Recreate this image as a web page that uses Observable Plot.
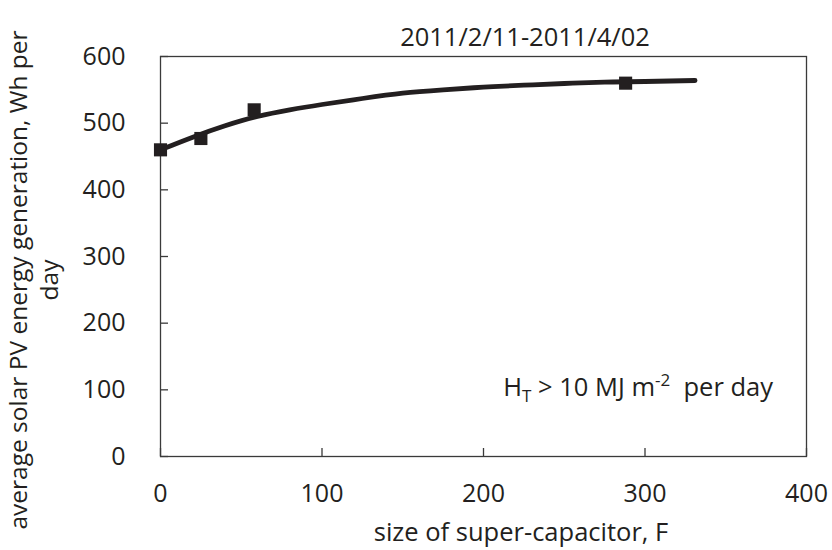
<!DOCTYPE html>
<html>
<head>
<meta charset="utf-8">
<script src="https://cdn.jsdelivr.net/npm/d3@7"></script>
<script src="https://cdn.jsdelivr.net/npm/@observablehq/plot@0.6"></script>
<style>
  html, body { margin: 0; padding: 0; background: #fff; }
  #chart { width: 832px; height: 550px; }
</style>
</head>
<body>
<div id="chart"></div>
<script>
// Measured points
const capacitance = [0, 25, 58, 288];
const energy = [460, 477, 520, 560];

// Fitted trend curve
const fitCapacitance = [0, 20, 40, 60, 80, 100, 125, 150, 175, 200, 225, 250, 275, 300, 331];
const fitEnergy = [460, 479, 496, 510, 520, 528, 537, 545, 550, 554, 557, 559.5, 561.5, 562.5, 564];

// Ticks
const xTicks = [0, 100, 200, 300, 400];
const yTicks = [0, 100, 200, 300, 400, 500, 600];

// Texts
const titleText = "2011/2/11-2011/4/02";
const xLabel = "size of super-capacitor, F";
const yLabelLines = ["average solar PV energy generation, Wh per", "day"];

const points = capacitance.map((c, i) => ({c, e: energy[i]}));
const fit = fitCapacitance.map((c, i) => ({c, e: fitEnergy[i]}));

const ink = "#231f20";

const chart = Plot.plot({
  width: 832,
  height: 550,
  marginLeft: 160,
  marginRight: 26,
  marginTop: 56,
  marginBottom: 94,
  style: {fontFamily: "'Open Sans', sans-serif", fontSize: "25px", color: ink, background: "#fff", overflow: "visible"},
  x: {domain: [0, 400], label: null},
  y: {domain: [0, 600], label: null},
  marks: [
    Plot.frame({stroke: "#3a3a3a", strokeWidth: 1.3}),
    Plot.axisX({ticks: xTicks, tickSize: -8, tickPadding: 36, label: null, stroke: "#3a3a3a", strokeWidth: 1.3, fontSize: 25}),
    Plot.axisY({ticks: yTicks, tickSize: -8, tickPadding: 43, label: null, stroke: "#3a3a3a", strokeWidth: 1.3, fontSize: 25}),
    Plot.line(fit, {x: "c", y: "e", curve: "natural", stroke: ink, strokeWidth: 4.8}),
    Plot.dot(points, {x: "c", y: "e", symbol: "square", r: 7.4, fill: ink, stroke: "none"})
  ]
});

document.getElementById("chart").appendChild(chart);

const svg = d3.select(chart);
const font = "'Open Sans', sans-serif";
const fs = 25.5;

// Title
svg.append("text")
  .attr("x", 525).attr("y", 46)
  .attr("text-anchor", "middle")
  .attr("font-family", font).attr("font-size", fs).attr("fill", ink)
  .text(titleText);

// X axis label
svg.append("text")
  .attr("x", 521).attr("y", 541)
  .attr("text-anchor", "middle")
  .attr("font-family", font).attr("font-size", fs).attr("fill", ink)
  .text(xLabel);

// Y axis label (two lines, rotated)
const ylab = svg.append("text")
  .attr("transform", "translate(27,280) rotate(-90)")
  .attr("text-anchor", "middle")
  .attr("font-family", font).attr("font-size", 24.5).attr("fill", ink);
yLabelLines.forEach((line, i) => {
  ylab.append("tspan").attr("x", 0).attr("y", i * 31).text(line);
});

// Annotation with sub/superscript
const ann = svg.append("text")
  .attr("x", 773).attr("y", 396)
  .attr("text-anchor", "end")
  .attr("font-family", font).attr("font-size", fs).attr("fill", ink)
  .attr("xml:space", "preserve")
  .style("white-space", "pre");
ann.append("tspan").text("H");
ann.append("tspan").attr("font-size", 17).attr("dy", 6).text("T");
ann.append("tspan").attr("dy", -6).text(" > 10 MJ m");
ann.append("tspan").attr("font-size", 17).attr("dy", -10).text("-2");
ann.append("tspan").attr("dy", 10).text("  per day");
</script>
</body>
</html>
